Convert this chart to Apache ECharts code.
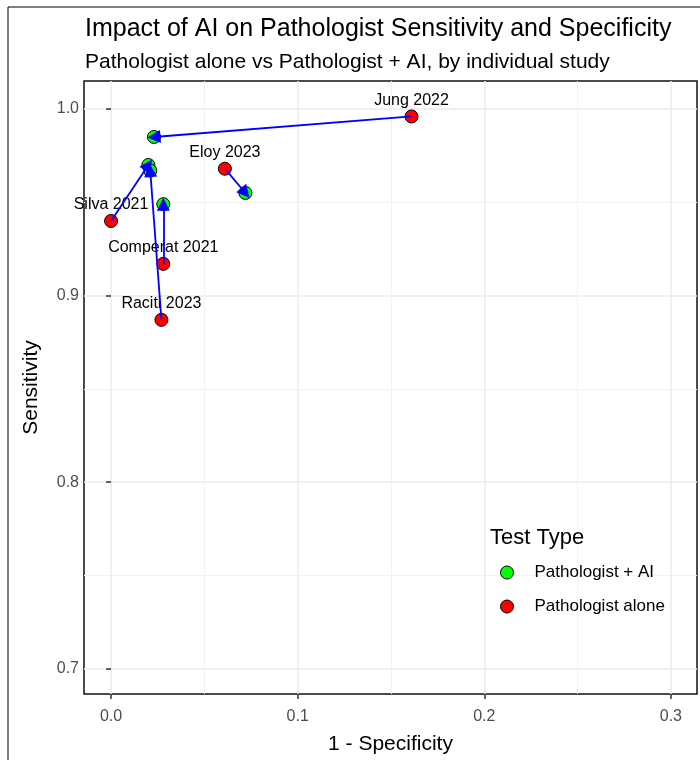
<!DOCTYPE html>
<html lang="en">
<head>
    <meta charset="UTF-8">
    <script src="https://cdn.jsdelivr.net/npm/echarts@6/dist/echarts.min.js"></script>
    <title>Impact of AI on Pathologist Sensitivity and Specificity</title>
    <style>
        html, body { margin: 0; padding: 0; background: #fff; }
        #main { width: 700px; height: 760px; }
    </style>
</head>
<body>
<div id="main"></div>

<script>
    // study data
    var studies = ['Jung 2022', 'Eloy 2023', 'Silva 2021', 'Comperat 2021', 'Raciti 2023']
    var aloneFpr = [0.161, 0.061, 0.000, 0.028, 0.027]
    var aloneSens = [0.996, 0.968, 0.940, 0.917, 0.887]
    var aiFpr = [0.023, 0.072, 0.020, 0.028, 0.021]
    var aiSens = [0.985, 0.955, 0.970, 0.949, 0.967]

    var xTicks = [0, 0.1, 0.2, 0.3]
    var xMinor = [0.05, 0.15, 0.25]
    var yTicks = [0.7, 0.8, 0.9, 1.0]
    var yMinor = [0.75, 0.85, 0.95]

    var font = 'Liberation Sans, Arial, sans-serif'

    var alonePts = [], aiPts = [], arrows = []
    for (var i = 0; i < studies.length; i++) {
        alonePts.push({value: [aloneFpr[i], aloneSens[i]], name: studies[i]})
        aiPts.push({value: [aiFpr[i], aiSens[i]], name: studies[i]})
        arrows.push({coords: [[aloneFpr[i], aloneSens[i]], [aiFpr[i], aiSens[i]]]})
    }

    var xRange = [-0.0145, 0.314]
    var yRange = [0.6865, 1.015]

    function mainAxis(range, ticks, name, isX) {
        return {
            type: 'value',
            min: range[0],
            max: range[1],
            position: isX ? 'bottom' : 'left',
            name: name,
            nameLocation: 'middle',
            nameGap: isX ? 40 : 42,
            nameTextStyle: {color: '#000', fontSize: 21, fontFamily: font},
            axisLine: {show: false},
            axisTick: {show: true, length: 5, customValues: ticks, lineStyle: {color: '#333', width: 1.5}},
            axisLabel: {
                customValues: ticks, color: '#4d4d4d', fontSize: 16, fontFamily: font,
                margin: isX ? 15 : 5,
                formatter: function (v) { return v.toFixed(1) }
            },
            splitLine: {show: true, lineStyle: {color: '#ebebeb', width: 1.5}}
        }
    }

    function minorAxis(range, ticks, isX) {
        return {
            type: 'value',
            min: range[0],
            max: range[1],
            position: isX ? 'bottom' : 'left',
            axisLine: {show: false},
            axisTick: {show: false, customValues: ticks},
            axisLabel: {show: false, customValues: ticks},
            splitLine: {show: true, lineStyle: {color: '#f2f2f2', width: 1}}
        }
    }

    var myChart = echarts.init(document.getElementById('main'))

    var option = {
        backgroundColor: '#fff',
        animation: false,
        textStyle: {fontFamily: font},
        title: [{
            text: 'Impact of AI on Pathologist Sensitivity and Specificity',
            subtext: 'Pathologist alone vs Pathologist + AI, by individual study',
            left: 85,
            top: 17,
            padding: 0,
            itemGap: 10,
            textStyle: {color: '#000', fontSize: 25, fontWeight: 'normal', fontFamily: font},
            subtextStyle: {color: '#000', fontSize: 21, fontFamily: font}
        }, {
            text: 'Test Type',
            left: 490,
            top: 527,
            padding: 0,
            textStyle: {color: '#000', fontSize: 22, fontWeight: 'normal', fontFamily: font}
        }],
        legend: {
            orient: 'vertical',
            left: 500,
            top: 564,
            padding: 0,
            itemWidth: 13,
            itemHeight: 13,
            itemGap: 17,
            icon: 'circle',
            itemStyle: {borderWidth: 1, borderColor: '#000'},
            textStyle: {color: '#000', fontSize: 17, fontFamily: font, padding: [0, 0, 0, 16]},
            data: ['Pathologist + AI', 'Pathologist alone']
        },
        grid: {
            left: 84,
            right: 3,
            top: 81,
            bottom: 65,
            show: true,
            borderColor: '#111',
            borderWidth: 1.5,
            backgroundColor: 'transparent'
        },
        xAxis: [mainAxis(xRange, xTicks, '1 - Specificity', true), minorAxis(xRange, xMinor, true)],
        yAxis: [mainAxis(yRange, yTicks, 'Sensitivity', false), minorAxis(yRange, yMinor, false)],
        graphic: [{
            type: 'rect',
            z: -10,
            shape: {x: 8, y: 7, width: 760, height: 800},
            style: {fill: 'none', stroke: '#000', lineWidth: 1}
        }],
        series: [{
            name: 'Pathologist + AI',
            type: 'scatter',
            symbolSize: 13,
            z: 2,
            itemStyle: {color: '#00ff00', borderColor: '#000', borderWidth: 1, opacity: 1},
            data: aiPts
        }, {
            name: 'Pathologist alone',
            type: 'scatter',
            symbolSize: 13,
            z: 2,
            itemStyle: {color: '#ff0000', borderColor: '#000', borderWidth: 1, opacity: 1},
            label: {
                show: true,
                position: 'top',
                distance: 1,
                color: '#000',
                fontSize: 16,
                fontFamily: font,
                formatter: function (p) { return p.name }
            },
            data: alonePts
        }, {
            type: 'lines',
            coordinateSystem: 'cartesian2d',
            z: 5,
            symbol: ['none', 'triangle'],
            symbolSize: [12, 13],
            symbolOffset: [0, 6.5],
            lineStyle: {color: '#0000ff', width: 1.8, opacity: 1, curveness: 0},
            silent: true,
            data: arrows
        }]
    }

    myChart.setOption(option)
</script>
</body>
</html>
